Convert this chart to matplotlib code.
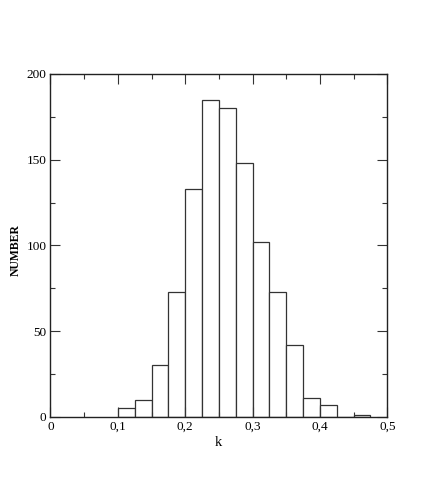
import numpy as np
import matplotlib
matplotlib.use('Agg')
import matplotlib.pyplot as plt
from matplotlib.ticker import MultipleLocator, FuncFormatter

plt.rcParams['font.family'] = ['Liberation Serif', 'DejaVu Serif']

# Histogram data (bin left edges, width 0.025)
bin_left = [0.100, 0.125, 0.150, 0.175, 0.200, 0.225, 0.250, 0.275,
            0.300, 0.325, 0.350, 0.375, 0.400, 0.425, 0.450]
counts = [5, 10, 30, 73, 133, 185, 180, 148, 102, 73, 42, 11, 7, 0, 1]
bin_width = 0.025

fig = plt.figure(figsize=(4.36, 4.91), dpi=100)
ax = fig.add_axes([0.1158, 0.1513, 0.7725, 0.698])

ax.bar(bin_left, counts, width=bin_width, align='edge',
       facecolor='white', edgecolor='#333333', linewidth=0.9)

ax.set_xlim(0, 0.5)
ax.set_ylim(0, 200)

ax.xaxis.set_major_locator(MultipleLocator(0.1))
ax.xaxis.set_minor_locator(MultipleLocator(0.05))
ax.yaxis.set_major_locator(MultipleLocator(50))
ax.yaxis.set_minor_locator(MultipleLocator(25))

def comma_fmt(v, pos):
    if abs(v) < 1e-9:
        return '0'
    return ('%.1f' % v).replace('.', ',')

ax.xaxis.set_major_formatter(FuncFormatter(comma_fmt))
ax.yaxis.set_major_formatter(FuncFormatter(lambda v, p: '%d' % v))

ax.tick_params(which='both', direction='in', top=True, right=True,
               labelsize=9.5, width=0.8, pad=3, color='#333333')
ax.tick_params(which='major', length=7)
ax.tick_params(which='minor', length=3.5)

for s in ax.spines.values():
    s.set_linewidth(1.0)
    s.set_color('#222222')

fig.text(0.037, 0.49, 'NUMBER', rotation=90, fontsize=8.5, fontweight='bold',
         ha='center', va='center')
fig.text(0.5, 0.099, 'k', fontsize=10.5, ha='center', va='center')

fig.savefig('out.png', dpi=100)
